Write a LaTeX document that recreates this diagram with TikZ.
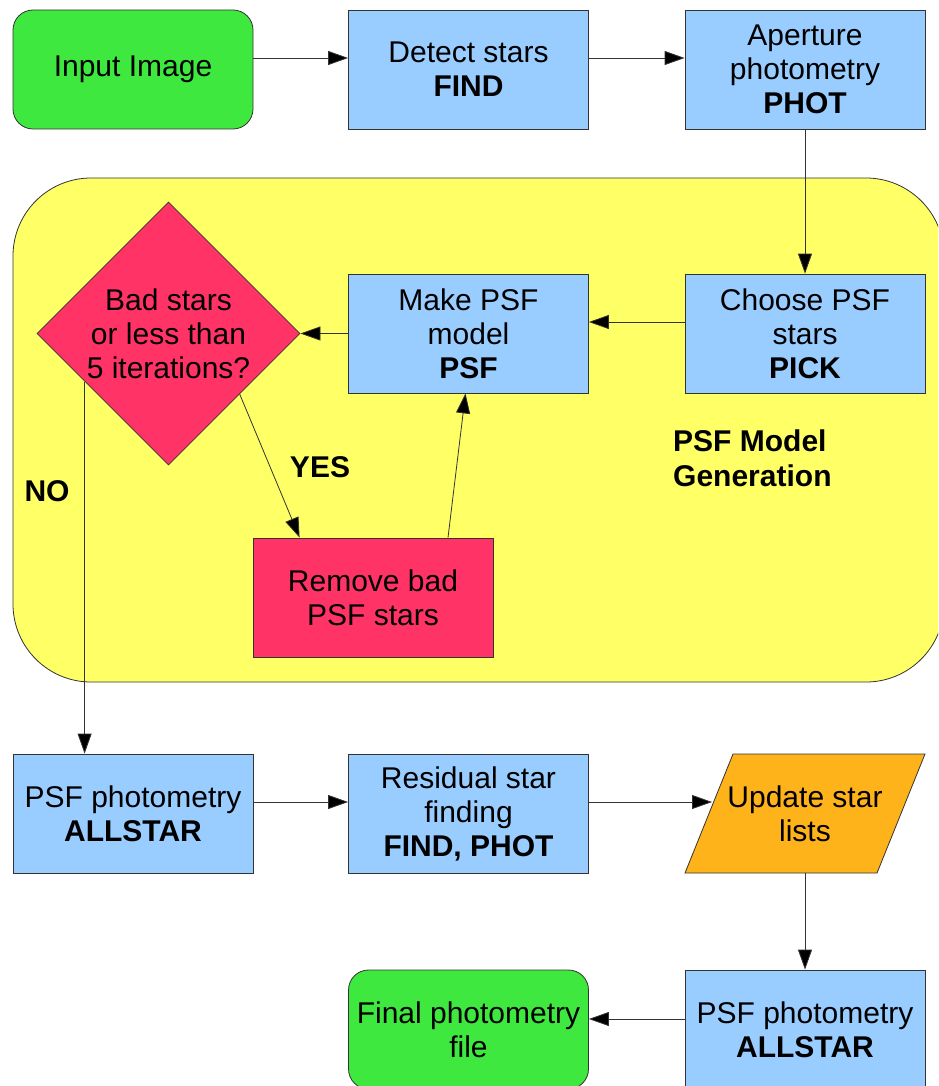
\documentclass[tikz,border=0pt]{standalone}
\usepackage{fontspec}
\setmainfont{Liberation Sans}
\usetikzlibrary{arrows.meta,shapes.geometric,calc}
\definecolor{cgreen}{HTML}{3EE83E}
\definecolor{cblue}{HTML}{99CCFF}
\definecolor{cyellow}{HTML}{FFFF66}
\definecolor{cred}{HTML}{FF3366}
\definecolor{corange}{HTML}{FFB31A}
\definecolor{cline}{HTML}{333333}
\begin{document}
\begin{tikzpicture}[x=1pt,y=-1pt,
  txt/.style={font=\fontsize{30}{34}\selectfont},
  box/.style={txt, draw=cline, line width=0.8pt, minimum width=240pt, minimum height=119pt, inner sep=1pt, align=center},
  bluebox/.style={box, fill=cblue},
  greenbox/.style={box, fill=cgreen, rounded corners=20pt},
  redbox/.style={box, fill=cred},
  arr/.style={-{Triangle[length=20pt,width=14pt,fill=black]}, line width=0.8pt, draw=cline},
  lbl/.style={font=\fontsize{30}{35}\selectfont\bfseries, inner sep=0pt}
]
\useasboundingbox (0,0) rectangle (938,1086);
\clip (0,0) rectangle (938,1086);
\fill[white] (0,0) rectangle (938,1086);

% PSF model generation region
\draw[fill=cyellow, draw=cline, line width=0.8pt, rounded corners=78pt] (13,178) rectangle (944,682);

% nodes
\node[greenbox] (input) at (133,69.5) {Input Image};
\node[bluebox] (detect) at (468.5,69.5) {Detect stars\\\textbf{FIND}};
\node[bluebox] (aper) at (805,69.5) {Aperture\\photometry\\\textbf{PHOT}};
\node[bluebox] (choose) at (805,333.5) {Choose PSF\\stars\\\textbf{PICK}};
\node[bluebox] (make) at (468.5,333.5) {Make PSF\\model\\\textbf{PSF}};
\node[txt, draw=cline, line width=0.8pt, fill=cred, diamond, aspect=1, minimum width=263pt, minimum height=263pt, inner sep=0pt, align=center] (dia) at (168.5,333.5) {Bad stars\\or less than\\5 iterations?};
\node[redbox] (rem) at (373,597.5) {Remove bad\\PSF stars};
\node[bluebox] (all1) at (133,813.5) {PSF photometry\\\textbf{ALLSTAR}};
\node[bluebox] (resid) at (468.5,813.5) {Residual star\\finding\\\textbf{FIND, PHOT}};
\draw[fill=corange, draw=cline, line width=0.8pt] (685,873) -- (733,754) -- (925,754) -- (877,873) -- cycle;
\node[txt, align=center, minimum width=240pt, minimum height=119pt, inner sep=0pt] (upd) at (805,813.5) {Update star\\lists};
\coordinate (updin) at (712,802);
\node[bluebox] (all2) at (805,1029.5) {PSF photometry\\\textbf{ALLSTAR}};
\node[greenbox] (final) at (468.5,1029.5) {Final photometry\\file};

% labels
\node[lbl] (yes) at (320,467) {YES};
\node[lbl] (no) at (47,491) {NO};
\node[lbl, anchor=west, align=left] (gen) at (673,458) {PSF Model\\Generation};

% connectors
\draw[arr] ($(input.east)+(0,-11.5)$) -- ($(detect.west)+(0,-11.5)$);
\draw[arr] ($(detect.east)+(0,-11.5)$) -- ($(aper.west)+(0,-11.5)$);
\draw[arr] (aper.south) -- (choose.north);
\draw[arr] ($(choose.west)+(0,-11.5)$) -- ($(make.east)+(0,-11.5)$);
\draw[arr] (make.west) -- (dia.east);
\draw[arr] ($(dia.east)!0.46!(dia.south)$) -- ($(rem.north west)+(47,0)$);
\draw[arr] ($(rem.north)+(75,0)$) -- ($(make.south)+(-3,0)$);
\coordinate (nostart) at ($(dia.west)!0.364!(dia.south)$);
\draw[arr] (nostart) -- (nostart |- all1.north);
\draw[arr] ($(all1.east)+(0,-11.5)$) -- ($(resid.west)+(0,-11.5)$);
\draw[arr] ($(resid.east)+(0,-11.5)$) -- (updin);
\draw[arr] (upd.south) -- (all2.north);
\draw[arr] ($(all2.west)+(0,-10.5)$) -- ($(final.east)+(0,-10.5)$);
\end{tikzpicture}
\end{document}
